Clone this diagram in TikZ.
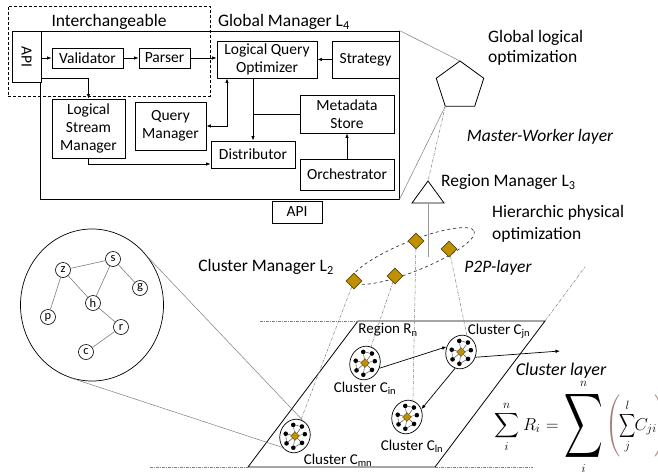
\documentclass[tikz,border=0pt]{standalone}
\usepackage{fontspec}
\setmainfont{Carlito}
\usepackage{amsmath}
\usepackage{graphicx}
\usetikzlibrary{positioning,arrows.meta,shapes.geometric,calc}
\definecolor{ClusterGold}{RGB}{191,144,0}
\definecolor{DiamondEdge}{RGB}{90,70,20}
\definecolor{LinkGray}{RGB}{125,125,125}
\definecolor{ParenBrown}{RGB}{160,130,120}
\tikzset{
  % component boxes of the global manager
  box/.style={
    draw,
    fill=white,
    line width=0.9pt,
    inner sep=1pt,
    align=center,
    font=\fontsize{15.5}{18}\selectfont
  },
  frame/.style={draw, line width=0.9pt, inner sep=0pt},
  dashbox/.style={draw, densely dashed, line width=0.8pt, inner sep=0pt},
  % text labels
  lbl/.style={font=\fontsize{17.5}{20}\selectfont, inner sep=1pt},
  rlbl/.style={font=\fontsize{17.5}{20}\selectfont, inner sep=1pt, anchor=west, align=left},
  ilbl/.style={font=\fontsize{17.5}{20}\selectfont\itshape, inner sep=1pt},
  clbl/.style={font=\fontsize{15}{17}\selectfont, inner sep=1pt},
  % connectors
  arr/.style={line width=0.7pt, -{Latex[length=4.5pt,width=3.5pt]}},
  darr/.style={line width=0.7pt, {Latex[length=4.5pt,width=3.5pt]}-{Latex[length=4.5pt,width=3.5pt]}},
  link/.style={line width=0.7pt},
  zoomline/.style={draw=LinkGray, line width=0.5pt},
  dashdot/.style={draw=LinkGray, line width=0.5pt,
    dash pattern=on 3pt off 1.2pt on 0.6pt off 1.2pt},
  stem/.style={draw=LinkGray!80, line width=1pt},
  % managers and clusters
  pent/.style={regular polygon, regular polygon sides=5, draw, line width=0.8pt,
    minimum size=50, inner sep=0pt, outer sep=0pt},
  gold/.style={diamond, draw=DiamondEdge, fill=ClusterGold, line width=0.6pt,
    minimum size=16, inner sep=0pt},
  sgold/.style={diamond, draw=DiamondEdge, fill=ClusterGold, line width=0.4pt,
    minimum size=9, inner sep=0pt},
  clus/.style={ellipse, draw, line width=0.7pt, minimum width=30, minimum height=34,
    inner sep=0pt, rotate=-20},
  dot/.style={circle, fill=black, minimum size=4.6, inner sep=0pt},
  gnode/.style={circle, draw, line width=0.6pt, minimum size=15, inner sep=0pt,
    font=\fontsize{12.5}{13}\selectfont},
  gedge/.style={draw=LinkGray, line width=0.6pt}
}

\begin{document}
\begin{tikzpicture}[x=1pt,y=-1pt]
  \useasboundingbox (0,0) rectangle (658,471);

  % Global manager
  \node[frame, minimum width=359, minimum height=168] (gm) at (219.5,115) {};
  \node[dashbox, minimum width=202, minimum height=90] (ich) at (109,51) {};
  \node[lbl] (ichlbl) at (109,22) {Interchangeable};
  \node[lbl] (gmlbl) at (284,22) {Global Manager L\textsubscript{4}};

  \node[box, minimum width=29, minimum height=51] (api) at (26.5,56.5) {\rotatebox{-90}{API}};
  \node[box, minimum width=71, minimum height=20] (val) at (87.5,58) {Validator};
  \node[box, minimum width=51, minimum height=20] (parser) at (164.5,58) {Parser};
  \node[box, minimum width=100, minimum height=37] (lqo) at (267,59.5) {Logical Query\\Optimizer};
  \node[box, minimum width=67, minimum height=37] (strat) at (365.5,59.5) {Strategy};
  \node[box, minimum width=73, minimum height=59] (lsm) at (88.5,128.5) {Logical\\Stream\\Manager};
  \node[box, minimum width=71, minimum height=48] (qm) at (170.5,126) {Query\\Manager};
  \node[box, minimum width=94, minimum height=38] (meta) at (347,114) {Metadata\\Store};
  \node[box, minimum width=84, minimum height=27] (dist) at (253,154.5) {Distributor};
  \node[box, minimum width=94, minimum height=31] (orch) at (347,174.5) {Orchestrator};
  \node[box, minimum width=50, minimum height=22] (api2) at (297,212) {API};

  \draw[arr] (api.east |- val.west) -- (val.west);
  \draw[arr] (val) -- (parser);
  \draw[arr] (parser.east) -- (parser.east -| lqo.west);
  \draw[arr] (strat.west) -- (lqo.east);
  \draw[arr] ([yshift=-21.5pt]api.east) -| (lsm.north);
  \draw[darr] ([xshift=-40pt]lqo.south) |- (qm.east);
  \draw[arr] (lqo.south -| dist.north) -- (dist.north);
  \draw[link] (meta.west) -- (meta.west -| dist.north);
  \draw[arr] (orch) -- (meta);
  \draw[arr] (lsm.south) |- ([yshift=-9.5pt]dist.west);

  % Master-worker layer
  \node[pent] (glob) at (460,86) {};
  \draw[zoomline] (gm.north east) -- (glob.corner 1);
  \draw[zoomline] (gm.south east) -- (glob.corner 3);
  \node[rlbl] (globlbl) at (487,48) {Global logical\\optimization};
  \node[ilbl] (mwlbl) at (540,137) {Master-Worker layer};

  \coordinate (rmtop) at (428,181);
  \coordinate (rm) at (428,203);
  \coordinate (rmfoot) at (428,257);
  \draw[line width=0.8pt] (rmtop) -- (444,203) -- (412,203) -- cycle;
  \draw[dashdot] (glob.corner 3) -- (rmtop);
  \node[rlbl] (rmlbl) at (440,182) {Region Manager L\textsubscript{3}};
  \node[rlbl, font=\fontsize{17.5}{22}\selectfont] (hpolbl) at (491,224) {Hierarchic physical\\optimization};

  % P2P layer
  \draw[dashed, line width=0.7pt, draw=black!80, rotate around={22:(413,256)}]
    (413,256) ellipse [x radius=66, y radius=15];
  \draw[stem] (rm) -- (rmfoot);
  \node[gold] (cmd1) at (354,281) {};
  \node[gold] (cmd2) at (395,276) {};
  \node[gold] (cmd3) at (416,241) {};
  \node[gold] (cmd4) at (449,249) {};
  \node[lbl] (cmlbl) at (266,267) {Cluster Manager L\textsubscript{2}};
  \node[ilbl] (p2plbl) at (498,268) {P2P-layer};

  % Cluster layer plane
  \coordinate (pl1) at (248,467);
  \coordinate (pl2) at (358,321);
  \coordinate (pl3) at (545,321);
  \coordinate (pl4) at (435,467);
  \draw[line width=0.8pt] (pl1) -- (pl2) -- (pl3) -- (pl4) -- cycle;
  \draw[dashdot] (260,321) -- (pl2);
  \draw[dashdot] (150,467) -- (pl1);
  \draw[dashdot] (pl4) -- (533,467);
  \draw[dashdot] (pl3) -- (585,267);

  % Clusters
  \foreach \nm/\cx/\cy in {cm/295/436, ci/365/363, cj/461/352, cl/407/417} {
    \node[clus] (\nm) at (\cx,\cy) {};
    \begin{scope}[shift={(\cx,\cy)}, rotate=-20]
      \foreach \a [count=\k] in {20,75,125,175,235,290,335} {
        \node[dot] (\nm-\k) at (\a:9.5 and 12) {};
        \draw[line width=0.3pt] (0,0) -- (\nm-\k);
      }
      \draw[line width=0.3pt] (\nm-1) -- (\nm-2) (\nm-3) -- (\nm-4) (\nm-5) -- (\nm-6);
      \node[sgold] (\nm-d) at (0,0) {};
    \end{scope}
  }

  \draw[dashdot] (cmd1) -- (cm.north);
  \draw[dashdot] (cmd2) -- (ci.north);
  \draw[dashdot] (cmd3) -- (cl.north);
  \draw[dashdot] (cmd4) -- (cj.north);

  \coordinate (clout) at (560,351);
  \draw[arr] (ci.east) -- (cj.west);
  \draw[arr] (cj.south) -- (cl.north east);
  \draw[arr] (cj.east) -- (clout);

  \node[clbl] (rnlbl) at (388,330) {Region R\textsubscript{n}};
  \node[clbl] (cjlbl) at (499,331) {Cluster C\textsubscript{jn}};
  \node[clbl] (cilbl) at (365,388) {Cluster C\textsubscript{in}};
  \node[clbl] (cllbl) at (412,446) {Cluster C\textsubscript{ln}};
  \node[clbl] (cmnlbl) at (338,460) {Cluster C\textsubscript{mn}};
  \node[ilbl, font=\fontsize{18}{20}\selectfont\itshape] (cllayer) at (561,371) {Cluster layer};

  % Zoom into one cluster
  \node[ellipse, draw, line width=0.7pt, minimum width=143, minimum height=152] (zoom) at (92,305) {};
  \draw[zoomline] (zoom.40) -- (cm.83);
  \draw[zoomline] (zoom.252) -- (cm.243);
  \foreach \n/\x/\y in {s/113/259, z/63/270, g/140/288, h/93/303, p/48/317, r/121/327, c/86/352}
    \node[gnode] (v\n) at (\x,\y) {\n};
  \foreach \a/\b in {z/s, z/h, z/p, s/h, s/g, h/r, r/c}
    \draw[gedge] (v\a) -- (v\b);

  % Cluster sum
  \node[anchor=west, inner sep=0pt, font=\fontsize{17.5}{20}\selectfont] (sumeq) at (494,427)
    {$\displaystyle\sum_{i}^{n}\mkern1mu R_i \mkern1mu=\mkern1mu
      \mathop{\vcenter{\hbox{\scalebox{1.55}[2.6]{$\displaystyle\sum$}}}}\limits_{i}^{n}\mkern0mu
      {\color{ParenBrown}\left(\rule[-28pt]{0pt}{57pt}\right.}\mkern-6mu
      \mathop{\vcenter{\hbox{\scalebox{0.65}[0.95]{$\displaystyle\sum$}}}}\limits_{j}^{l}\mkern-4mu C_{ji}\mkern-4mu
      {\color{ParenBrown}\left.\rule[-28pt]{0pt}{57pt}\right)}$};
\end{tikzpicture}
\end{document}
